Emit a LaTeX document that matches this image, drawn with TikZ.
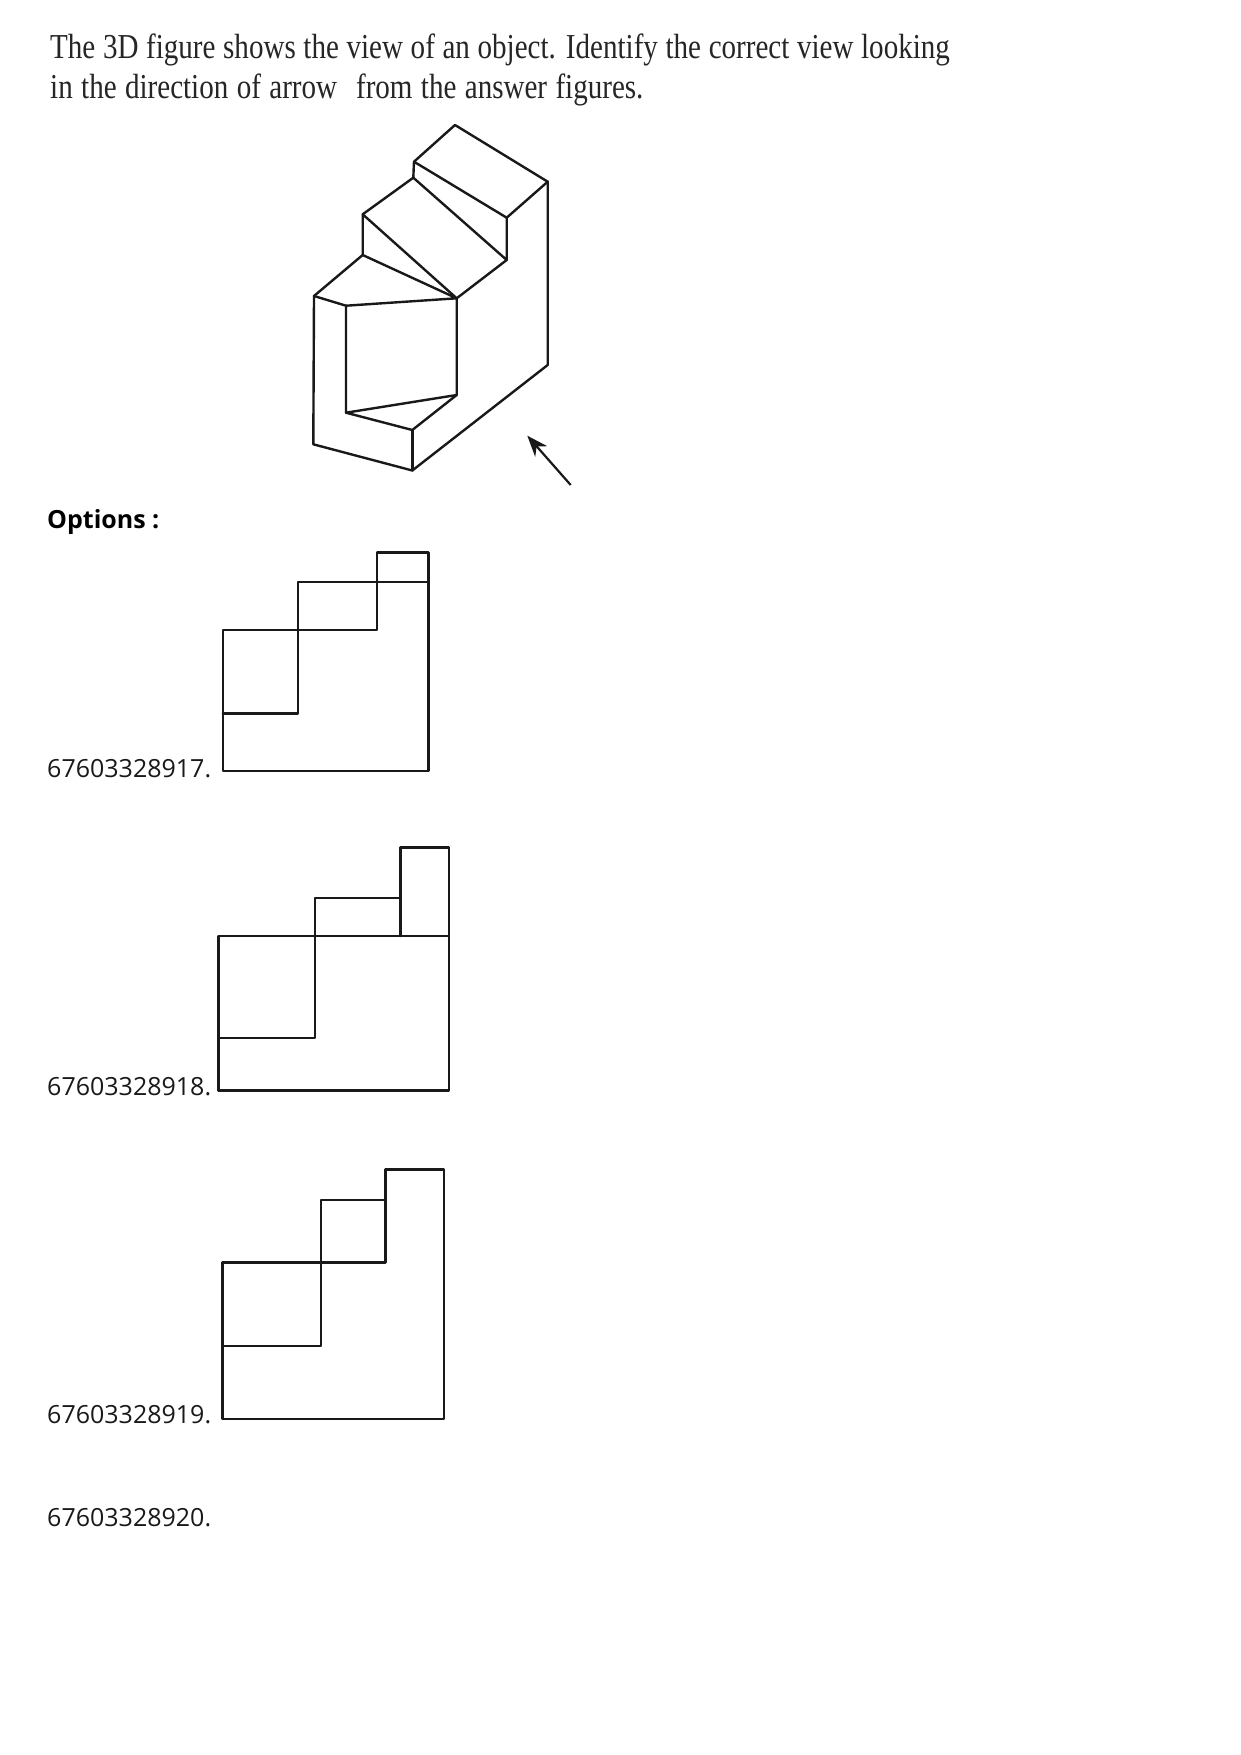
\documentclass[tikz,border=0pt]{standalone}
\usepackage{fontspec}
\setmainfont{Open Sans}
\newfontfamily\headfont[FakeStretch=0.83]{Liberation Serif}
\usetikzlibrary{arrows.meta}
\tikzset{
  x=1pt,y=-1pt,
  edge/.style={draw=black!90,line width=2.4pt,line cap=round,line join=round},
  headtext/.style={anchor=base west,inner sep=0pt,font=\headfont\fontsize{35}{35}\selectfont,text=black!85},
  labeltext/.style={anchor=base west,inner sep=0pt,font=\fontsize{25}{25}\selectfont,text=black!90},
  boldtext/.style={anchor=base west,inner sep=0pt,font=\bfseries\fontsize{25}{25}\selectfont,text=black},
}
\begin{document}
\begin{tikzpicture}
\useasboundingbox (0,0) rectangle (1240,1755);
\fill[white] (0,0) rectangle (1240,1755);
\node[headtext] (h1) at (50,59) {\spaceskip=7.65pt The 3D figure shows the view of an object. Identify the correct view looking};
\node[headtext] (h2) at (50,99) {\spaceskip=8.4pt in the direction of arrow\hspace{19pt}from the answer figures.};
\node[boldtext] (opt) at (47,528) {Options :};
\node[labeltext] (l1) at (47,777) {67603328917.};
\node[labeltext] (l2) at (47,1095) {67603328918.};
\node[labeltext] (l3) at (47,1423) {67603328919.};
\node[labeltext] (l4) at (47,1526) {67603328920.};
% 3D figure vertices
\coordinate (A) at (455,125);
\coordinate (B) at (547.7,181.7);
\coordinate (C) at (506.7,217.7);
\coordinate (D) at (414,161.7);
\coordinate (E) at (413.3,177.7);
\coordinate (F) at (506.7,260);
\coordinate (G) at (456.7,298.3);
\coordinate (H) at (362.7,214.3);
\coordinate (I) at (362.7,255);
\coordinate (J) at (314,296);
\coordinate (K) at (346,305.7);
\coordinate (L) at (346,412.7);
\coordinate (M) at (456.7,395);
\coordinate (N) at (412.3,430);
\coordinate (O) at (412.3,470.5);
\coordinate (P) at (313.3,444.3);
\coordinate (Q) at (547.7,365);
\coordinate (T1) at (570.7,485);
\coordinate (T2) at (527.3,435.7);
\draw[edge] (A) -- (B) -- (Q) -- (O) -- (P) -- (J) -- (I) -- (H) -- (E) -- (D) -- (A);
\draw[edge] (B) -- (C) -- (D);
\draw[edge] (C) -- (F) -- (E);
\draw[edge] (F) -- (G) -- (H);
\draw[edge] (I) -- (G) -- (K) -- (J);
\draw[edge] (K) -- (L) -- (M) -- (G);
\draw[edge] (L) -- (N) -- (M);
\draw[edge] (N) -- (O);
\draw[line width=2.2pt,black!90,-{Stealth[length=21pt,width=16pt]}] (T1) -- (T2);
% option 1
\coordinate (a1) at (222.8,771);
\coordinate (a2) at (428.5,771);
\coordinate (a3) at (428.5,552.3);
\coordinate (a4) at (376.7,552.3);
\coordinate (a5) at (376.7,630);
\coordinate (a6) at (222.8,630);
\coordinate (a7) at (298,581.7);
\coordinate (a8) at (428.5,581.7);
\coordinate (a9) at (298,713.3);
\coordinate (a10) at (222.8,713.3);
\draw[edge] (a1) -- (a2) -- (a3) -- (a4) -- (a5) -- (a6) -- cycle;
\draw[edge] (a8) -- (a7) -- (a9) -- (a10);
% option 2
\coordinate (b1) at (218.3,1090.5);
\coordinate (b2) at (449,1090.5);
\coordinate (b3) at (449,847.3);
\coordinate (b4) at (400.3,847.3);
\coordinate (b5) at (400.3,936);
\coordinate (b6) at (218.3,936);
\coordinate (b7) at (449,936);
\coordinate (b8) at (400.3,897.7);
\coordinate (b9) at (315,897.7);
\coordinate (b10) at (315,1037.8);
\coordinate (b11) at (218.3,1037.8);
\draw[edge] (b1) -- (b2) -- (b3) -- (b4) -- (b5);
\draw[edge] (b1) -- (b6) -- (b7);
\draw[edge] (b8) -- (b9) -- (b10) -- (b11);
% option 3
\coordinate (c1) at (222.6,1419);
\coordinate (c2) at (443.7,1419);
\coordinate (c3) at (443.7,1169.3);
\coordinate (c4) at (385.6,1169.3);
\coordinate (c5) at (385.6,1262.3);
\coordinate (c6) at (222.6,1262.3);
\coordinate (c7) at (385.6,1200);
\coordinate (c8) at (321,1200);
\coordinate (c9) at (321,1345.7);
\coordinate (c10) at (222.6,1345.7);
\draw[edge] (c1) -- (c2) -- (c3) -- (c4) -- (c5) -- (c6) -- cycle;
\draw[edge] (c7) -- (c8) -- (c9) -- (c10);
\end{tikzpicture}
\end{document}
